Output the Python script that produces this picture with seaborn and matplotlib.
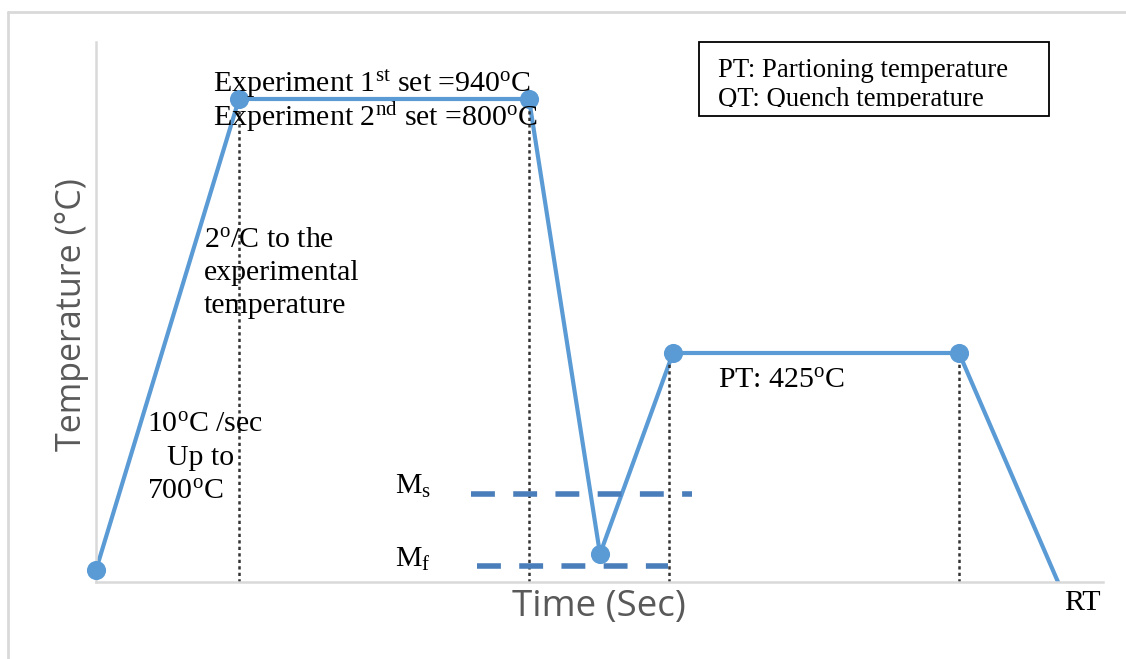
import matplotlib
matplotlib.use("Agg")
import matplotlib.pyplot as plt
from matplotlib.lines import Line2D
from matplotlib.patches import Rectangle
import pandas as pd
import seaborn as sns

W, H = 1126, 659

# heat-treatment profile (schematic units)
time_s = [0, 143, 433, 504, 577, 863, 962]
temp_c = [12, 483, 483, 28, 229, 229, 0]
n_marked = 6  # last point (RT) has no marker

# dotted guide lines dropped from the corners
guide_time = [143, 433, 573, 863]
guide_temp = [483, 483, 229, 229]

# Ms / Mf dashed levels
ms_time = [375, 596]
ms_temp = 88
mf_time = [381, 572]
mf_temp = 16

LINE = "#5b9bd5"
DASH = "#4a7ebb"
GRID = "#d9d9d9"
LABEL = "#595959"
SERIF = "Liberation Serif"


def px(x, y):
    return x / W, 1 - y / H


sns.set_theme(style="white")
plt.rcParams["font.family"] = ["Open Sans", "DejaVu Sans"]
plt.rcParams["mathtext.fontset"] = "custom"
plt.rcParams["mathtext.rm"] = SERIF
plt.rcParams["mathtext.it"] = SERIF

fig = plt.figure(figsize=(W / 100, H / 100), dpi=100)
ax = fig.add_axes([96 / W, (H - 582) / H, 1007 / W, 540 / H])

df = pd.DataFrame({"time": time_s, "temp": temp_c})
sns.lineplot(data=df, x="time", y="temp", ax=ax, color=LINE, lw=3,
             sort=False, estimator=None)
sns.scatterplot(data=df.iloc[:n_marked], x="time", y="temp", ax=ax,
                color=LINE, s=190, edgecolor=LINE, linewidth=0, zorder=4,
                clip_on=False)

ax.vlines(guide_time, 0, guide_temp, colors="#333333", linestyles=(0, (1.3, 1.3)),
          lw=1.8, zorder=2)

ax.plot(ms_time, [ms_temp, ms_temp], color=DASH, lw=4, dashes=(4.3, 3.3))
ax.plot(mf_time, [mf_temp, mf_temp], color=DASH, lw=4, dashes=(4.3, 3.3))

ax.set_xlim(0, 1007)
ax.set_ylim(0, 540)
ax.set_xticks([])
ax.set_yticks([])
ax.set_xlabel("")
ax.set_ylabel("")
for side in ["top", "right"]:
    ax.spines[side].set_visible(False)
for side in ["left", "bottom"]:
    ax.spines[side].set_color(GRID)
    ax.spines[side].set_linewidth(1.8)

# outer frame (top and left edges only)
fig.add_artist(Line2D([8 / W, 1], [1 - 12 / H, 1 - 12 / H], transform=fig.transFigure,
                      color=GRID, lw=2))
fig.add_artist(Line2D([8 / W, 8 / W], [0, 1 - 12 / H], transform=fig.transFigure,
                      color=GRID, lw=2))

# axis titles
fig.text(*px(599, 607), "Time (Sec)", ha="center", va="center", fontsize=26.5, color=LABEL)
fig.text(*px(72, 315), "Temperature (°C)", ha="center", va="center", rotation=90,
         fontsize=24.5, color=LABEL)


def note(x, y, s, size=21.5):
    return fig.text(*px(x, y), s, ha="left", va="baseline", fontsize=size,
                    family=SERIF, color="black")


note(213, 92, r"Experiment 1$^{\mathrm{st}}$ set =940$^{\mathrm{o}}$C")
note(213, 126, r"Experiment 2$^{\mathrm{nd}}$ set =800$^{\mathrm{o}}$C")
note(204, 247, r"2$^{\mathrm{o}}$/C to the")
note(204, 280, "experimental")
note(204, 313, "temperature")
note(147, 432, r"10$^{\mathrm{o}}$C /sec")
note(167, 465, "Up to")
note(147, 499, r"700$^{\mathrm{o}}$C")
note(718, 388, r"PT: 425$^{\mathrm{o}}$C")
note(395, 494, r"M$_{\mathrm{s}}$")
note(395, 567, r"M$_{\mathrm{f}}$")
note(1064, 610, "RT")

# abbreviation box
box = Rectangle(px(699, 116), 350 / W, 74 / H, transform=fig.transFigure,
                fill=False, ec="black", lw=1.3)
fig.add_artist(box)
clip = Rectangle(px(699, 107), 350 / W, 65 / H, transform=fig.transFigure)
for y, s in [(77, "PT: Partioning temperature"), (106, "QT: Quench temperature")]:
    t = note(718, y, s, size=19.3)
    t.set_clip_path(clip)
    t.set_clip_on(True)

fig.savefig("out.png", dpi=100)
plt.close(fig)
